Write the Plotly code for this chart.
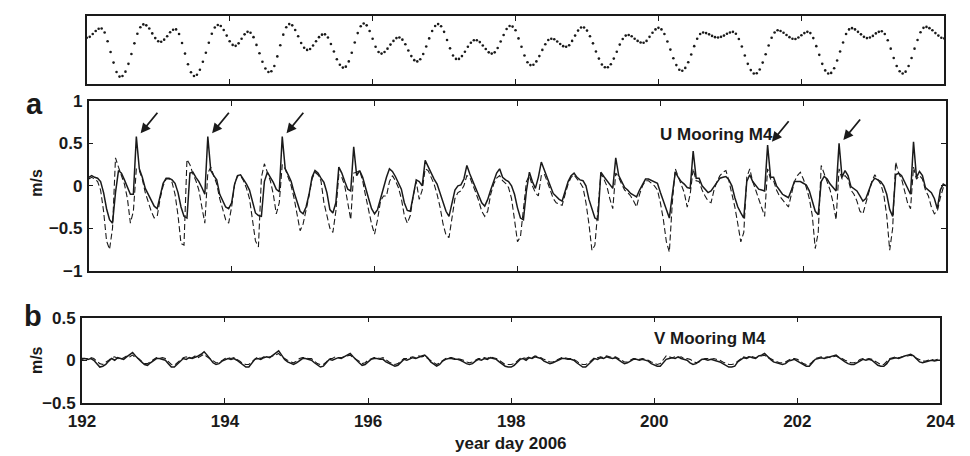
import numpy as np
import plotly.graph_objects as go

# ---------------------------------------------------------------------------
# Hourly series starting at year day 192.0 (2006)
# ---------------------------------------------------------------------------
START_DAY = 192.0

# tidal elevation for the top strip (arbitrary units)
tide = [
    39, 42, 51, 61, 68, 69, 56, 28, -7, -41, -71, -86, -84, -70, -45, -13, 21, 52, 73, 82, 79, 69, 53, 38,
    28, 26, 33, 44, 57, 65, 66, 51, 22, -12, -46, -72, -84, -80, -64, -38, -9, 23, 52, 72, 80, 77, 64, 46,
    28, 16, 13, 21, 36, 50, 58, 55, 41, 16, -11, -38, -60, -71, -69, -52, -21, 15, 49, 73, 83, 79, 64, 44,
    22, 7, 0, 3, 14, 28, 41, 49, 50, 40, 19, -5, -30, -48, -57, -54, -37, -9, 24, 54, 76, 85, 79, 61,
    36, 10, -7, -12, -7, 4, 17, 29, 38, 40, 33, 18, -2, -20, -33, -37, -30, -13, 11, 37, 61, 77, 83, 76,
    58, 32, 5, -18, -29, -29, -20, -6, 10, 23, 31, 31, 25, 14, 3, -8, -12, -8, 6, 27, 48, 67, 77, 75,
    63, 37, 10, -18, -40, -49, -48, -37, -20, 0, 18, 32, 36, 34, 27, 19, 12, 10, 15, 29, 46, 62, 72, 72,
    62, 44, 21, -5, -28, -47, -56, -56, -46, -28, -6, 17, 35, 46, 48, 44, 36, 29, 24, 23, 29, 42, 55, 66,
    71, 66, 51, 27, 1, -27, -49, -64, -67, -58, -40, -15, 12, 36, 51, 56, 54, 50, 45, 41, 40, 42, 46, 52,
    56, 58, 52, 35, 11, -18, -45, -65, -76, -75, -63, -41, -14, 14, 39, 56, 63, 61, 55, 48, 41, 36, 35, 40,
    47, 54, 58, 54, 38, 12, -16, -45, -66, -76, -74, -59, -34, -5, 24, 51, 66, 70, 66, 58, 50, 42, 38, 40,
    45, 53, 58, 60, 51, 31, 4, -26, -52, -69, -76, -70, -52, -26, 4, 32, 57, 71, 74, 70, 63, 54, 46, 39,
    37,
]

# U velocity (m/s): solid curve
u_obs = [
    0.10, 0.12, 0.10, 0.09, 0.05, -0.08, -0.27, -0.40, -0.44, -0.08, 0.18, 0.15, 0.07, -0.02, -0.10, -0.10, 0.58, 0.20, 0.10, -0.03, -0.10, -0.16, -0.24, -0.27,
    -0.10, 0.03, 0.09, 0.09, 0.07, 0.03, -0.08, -0.25, -0.36, -0.38, 0.15, 0.16, 0.10, 0.05, -0.02, -0.10, 0.58, 0.18, 0.12, 0.07, -0.10, -0.18, -0.25, -0.27,
    -0.20, 0.02, 0.12, 0.13, 0.08, 0.02, -0.05, -0.18, -0.32, -0.35, -0.36, 0.05, 0.16, 0.10, 0.04, -0.04, -0.07, 0.58, 0.20, 0.13, 0.05, -0.08, -0.18, -0.30,
    -0.33, -0.25, -0.10, 0.10, 0.18, 0.15, 0.09, 0.04, -0.08, -0.28, -0.32, -0.20, 0.22, 0.15, 0.05, -0.04, -0.06, 0.46, 0.12, 0.18, 0.10, -0.04, -0.15, -0.27,
    -0.33, -0.28, -0.15, -0.05, 0.10, 0.20, 0.17, 0.11, 0.04, -0.04, -0.20, -0.29, -0.30, -0.10, 0.07, 0.05, 0.00, 0.30, 0.22, 0.16, 0.08, 0.02, -0.08, -0.20,
    -0.30, -0.36, -0.22, -0.05, 0.00, 0.01, 0.08, 0.24, 0.14, 0.06, -0.02, -0.10, -0.20, -0.24, -0.16, -0.05, 0.05, 0.15, 0.20, 0.10, 0.07, 0.05, 0.00, -0.10,
    -0.26, -0.38, -0.40, -0.06, 0.16, 0.05, -0.03, 0.10, 0.28, 0.18, 0.09, 0.00, -0.09, -0.13, -0.16, -0.18, -0.05, 0.05, 0.12, 0.15, 0.10, 0.07, 0.06, 0.00,
    -0.16, -0.28, -0.38, -0.40, 0.16, 0.11, 0.06, 0.01, -0.03, 0.33, 0.12, 0.05, -0.02, -0.05, -0.09, -0.11, -0.13, -0.05, 0.01, 0.08, 0.08, 0.06, 0.05, 0.03,
    -0.08, -0.18, -0.28, -0.38, -0.10, 0.16, 0.10, 0.05, 0.02, -0.02, -0.03, 0.41, 0.09, 0.09, 0.00, -0.04, -0.08, -0.06, -0.01, 0.05, 0.09, 0.10, 0.11, 0.07,
    0.00, -0.14, -0.25, -0.32, -0.38, 0.05, 0.13, 0.05, 0.00, -0.04, -0.05, -0.06, 0.48, 0.10, 0.10, 0.00, -0.05, -0.10, -0.12, -0.14, -0.05, 0.05, 0.05, 0.05,
    0.03, 0.01, -0.06, -0.18, -0.30, -0.34, 0.05, 0.11, 0.08, 0.02, -0.02, -0.06, 0.50, 0.10, 0.18, 0.12, -0.01, -0.04, -0.06, -0.12, -0.18, -0.15, -0.05, 0.04,
    0.09, 0.07, 0.05, 0.00, -0.10, -0.28, -0.36, 0.13, 0.15, 0.12, 0.04, -0.03, -0.10, 0.52, 0.10, 0.17, 0.12, -0.02, -0.05, -0.08, -0.15, -0.27, -0.05, 0.02,
    0.00,
]

# U velocity (m/s): dashed curve
u_model = [
    0.08, 0.10, 0.08, 0.05, -0.05, -0.30, -0.65, -0.75, -0.50, 0.33, 0.22, 0.12, 0.02, -0.15, -0.44, -0.30, 0.20, 0.18, 0.08, -0.08, -0.20, -0.30, -0.38, -0.36,
    -0.15, 0.00, 0.08, 0.08, 0.04, -0.10, -0.35, -0.68, -0.70, 0.31, 0.25, 0.14, 0.06, -0.05, -0.25, -0.44, 0.15, 0.22, 0.12, 0.02, -0.15, -0.28, -0.40, -0.44,
    -0.25, 0.02, 0.12, 0.12, 0.06, -0.03, -0.15, -0.40, -0.65, -0.72, 0.10, 0.26, 0.15, 0.06, -0.10, -0.33, -0.20, 0.25, 0.20, 0.10, 0.00, -0.15, -0.35, -0.53,
    -0.45, -0.30, -0.12, 0.08, 0.16, 0.13, 0.06, -0.20, -0.37, -0.50, -0.55, -0.30, 0.13, 0.10, 0.00, -0.20, -0.40, 0.15, 0.16, 0.18, 0.06, -0.12, -0.30, -0.45,
    -0.57, -0.40, -0.18, -0.12, -0.12, 0.05, 0.12, 0.06, -0.02, -0.15, -0.35, -0.44, -0.35, -0.12, 0.05, -0.16, -0.05, 0.20, 0.18, 0.10, 0.02, -0.10, -0.25, -0.45,
    -0.58, -0.61, -0.35, -0.15, -0.08, -0.06, 0.00, 0.12, 0.10, 0.02, -0.08, -0.18, -0.30, -0.36, -0.30, -0.10, 0.02, 0.09, 0.12, 0.06, 0.03, -0.02, -0.15, -0.40,
    -0.66, -0.60, -0.30, 0.05, 0.12, 0.00, -0.08, -0.12, 0.12, 0.14, 0.05, -0.05, -0.15, -0.20, -0.22, -0.23, -0.10, 0.02, 0.10, 0.13, 0.08, 0.04, -0.02, -0.20,
    -0.45, -0.76, -0.70, -0.30, 0.14, 0.08, 0.00, -0.15, -0.27, 0.15, 0.10, 0.02, -0.05, -0.08, -0.12, -0.18, -0.25, -0.10, 0.00, 0.06, 0.06, 0.03, 0.00, -0.05,
    -0.20, -0.40, -0.66, -0.78, -0.20, 0.20, 0.10, 0.02, -0.08, -0.25, -0.10, 0.20, 0.06, 0.05, -0.05, -0.12, -0.18, -0.20, -0.05, 0.05, 0.12, 0.16, 0.18, 0.06,
    -0.08, -0.25, -0.45, -0.66, -0.55, 0.10, 0.20, 0.05, -0.05, -0.15, -0.25, -0.36, 0.20, 0.08, 0.06, -0.05, -0.12, -0.16, -0.20, -0.25, -0.10, 0.05, 0.12, 0.16,
    0.08, -0.02, -0.15, -0.35, -0.74, -0.55, 0.24, 0.15, 0.05, -0.05, -0.20, -0.40, 0.20, 0.08, 0.12, 0.08, -0.05, -0.10, -0.18, -0.30, -0.33, -0.20, -0.05, 0.05,
    0.13, 0.08, 0.02, -0.10, -0.35, -0.76, -0.50, 0.28, 0.15, 0.08, -0.05, -0.20, -0.27, 0.22, 0.08, 0.12, 0.08, -0.05, -0.12, -0.25, -0.33, -0.30, -0.14, -0.02,
    0.00,
]

# V velocity (m/s): solid curve
v_obs = [
    0.02, 0.02, 0.01, 0.02, 0.00, -0.04, -0.08, -0.07, -0.05, -0.01, 0.02, 0.00, 0.03, 0.02, 0.01, 0.04, 0.06, 0.09, 0.05, 0.01, -0.02, -0.05, -0.06, -0.03,
    0.00, 0.02, 0.02, 0.01, 0.00, -0.04, -0.08, -0.08, -0.05, -0.01, 0.02, 0.01, 0.03, 0.02, 0.04, 0.05, 0.07, 0.10, 0.06, 0.01, -0.03, -0.05, -0.04, -0.01,
    0.01, 0.02, 0.01, 0.02, 0.00, -0.03, -0.06, -0.08, -0.08, -0.04, 0.01, 0.02, 0.01, 0.03, 0.04, 0.03, 0.06, 0.09, 0.11, 0.06, 0.01, -0.02, -0.04, -0.05,
    -0.03, 0.00, 0.02, 0.02, 0.01, 0.00, -0.03, -0.06, -0.08, -0.07, -0.03, 0.01, 0.00, 0.02, 0.03, 0.02, 0.04, 0.06, 0.08, 0.04, 0.00, -0.03, -0.06, -0.05,
    -0.02, 0.01, 0.02, 0.02, 0.01, 0.01, -0.02, -0.04, -0.06, -0.07, -0.06, -0.02, 0.01, 0.00, 0.02, 0.03, 0.02, 0.04, 0.05, 0.06, 0.03, -0.02, -0.05, -0.07,
    -0.05, -0.01, 0.01, 0.02, 0.02, 0.01, 0.01, 0.00, -0.02, -0.04, -0.05, -0.04, -0.01, 0.01, 0.00, 0.02, 0.01, 0.03, 0.02, 0.01, -0.02, -0.05, -0.07, -0.08,
    -0.08, -0.06, -0.02, 0.01, 0.02, 0.00, 0.03, 0.02, 0.04, 0.03, 0.02, -0.01, -0.03, -0.04, -0.03, -0.01, 0.01, 0.02, 0.02, 0.01, 0.01, 0.00, -0.03, -0.06,
    -0.08, -0.08, -0.05, -0.01, 0.02, 0.01, 0.03, 0.02, 0.04, 0.03, 0.02, 0.03, 0.01, -0.02, -0.04, -0.03, -0.01, 0.01, 0.01, 0.00, 0.01, 0.00, -0.01, -0.04,
    -0.06, -0.07, -0.07, -0.03, 0.01, 0.02, 0.03, 0.02, 0.04, 0.02, 0.01, 0.00, -0.03, -0.05, -0.04, -0.01, 0.01, 0.01, 0.00, 0.01, 0.00, -0.01, -0.02, -0.04,
    -0.06, -0.08, -0.08, -0.07, -0.02, 0.01, 0.03, 0.02, 0.04, 0.03, 0.02, 0.05, 0.06, 0.08, 0.04, 0.01, -0.02, -0.03, -0.04, -0.05, -0.04, -0.01, 0.00, 0.01,
    -0.01, -0.03, -0.06, -0.07, -0.07, -0.03, 0.01, 0.02, 0.03, 0.02, 0.03, 0.04, 0.05, 0.06, 0.03, 0.00, -0.02, -0.04, -0.05, -0.05, -0.03, 0.00, 0.01, 0.00,
    0.01, 0.00, -0.03, -0.06, -0.07, -0.07, -0.04, 0.01, 0.02, 0.03, 0.02, 0.04, 0.05, 0.06, 0.07, 0.05, 0.01, -0.02, -0.03, -0.02, -0.01, 0.00, -0.01, 0.00,
    0.00,
]

# V velocity (m/s): dashed curve
v_model = [
    0.01, 0.02, 0.02, 0.03, 0.02, -0.01, -0.04, -0.05, -0.03, 0.00, 0.03, 0.04, 0.02, 0.01, 0.03, 0.05, 0.04, 0.06, 0.03, 0.02, -0.01, -0.04, -0.04, -0.02,
    0.01, 0.03, 0.02, 0.03, 0.02, -0.02, -0.05, -0.06, -0.03, 0.00, 0.03, 0.04, 0.02, 0.03, 0.05, 0.03, 0.05, 0.07, 0.04, 0.02, -0.01, -0.03, -0.03, 0.00,
    0.02, 0.03, 0.02, 0.03, 0.01, -0.01, -0.04, -0.05, -0.05, -0.02, 0.02, 0.04, 0.02, 0.04, 0.03, 0.04, 0.05, 0.06, 0.08, 0.04, 0.02, 0.00, -0.02, -0.03,
    -0.01, 0.02, 0.03, 0.03, 0.02, 0.02, -0.01, -0.04, -0.05, -0.05, -0.02, 0.02, 0.02, 0.04, 0.03, 0.03, 0.04, 0.05, 0.06, 0.03, 0.01, -0.01, -0.04, -0.03,
    0.00, 0.02, 0.03, 0.03, 0.02, 0.03, 0.00, -0.02, -0.04, -0.05, -0.04, -0.01, 0.02, 0.02, 0.03, 0.04, 0.03, 0.05, 0.04, 0.05, 0.02, 0.00, -0.03, -0.05,
    -0.03, 0.00, 0.02, 0.03, 0.03, 0.02, 0.02, 0.01, 0.00, -0.02, -0.03, -0.02, 0.00, 0.02, 0.02, 0.03, 0.02, 0.04, 0.03, 0.02, 0.00, -0.03, -0.05, -0.05,
    -0.05, -0.04, -0.01, 0.02, 0.03, 0.02, 0.04, 0.03, 0.05, 0.04, 0.03, 0.01, -0.01, -0.02, -0.02, 0.00, 0.02, 0.03, 0.03, 0.02, 0.02, 0.01, -0.01, -0.04,
    -0.05, -0.05, -0.03, 0.00, 0.03, 0.03, 0.04, 0.03, 0.05, 0.04, 0.03, 0.04, 0.02, 0.00, -0.02, -0.02, 0.00, 0.02, 0.02, 0.01, 0.02, 0.01, 0.00, -0.02,
    -0.04, -0.05, -0.04, 0.00, 0.05, 0.04, 0.03, 0.04, 0.03, 0.04, 0.02, 0.02, 0.01, -0.01, -0.03, -0.02, 0.00, 0.02, 0.02, 0.01, 0.02, 0.01, 0.00, -0.02,
    -0.04, -0.05, -0.05, -0.04, -0.01, 0.02, 0.04, 0.03, 0.05, 0.04, 0.03, 0.04, 0.05, 0.06, 0.03, 0.02, 0.00, -0.02, -0.03, -0.03, -0.02, 0.00, 0.02, 0.02,
    0.01, -0.01, -0.04, -0.05, -0.05, -0.02, 0.02, 0.03, 0.04, 0.03, 0.04, 0.03, 0.04, 0.05, 0.03, 0.02, 0.00, -0.02, -0.03, -0.03, -0.02, 0.01, 0.02, 0.01,
    0.02, 0.01, -0.01, -0.04, -0.05, -0.05, -0.02, 0.02, 0.03, 0.04, 0.03, 0.04, 0.05, 0.05, 0.06, 0.04, 0.02, 0.00, -0.01, -0.01, 0.00, 0.01, 0.00, 0.01,
    0.00,
]

# hours (from the start of day 192) of the U spikes flagged with arrows
flagged_hours = [16, 40, 65, 228, 252]

x_ticks = [192, 194, 196, 198, 200, 202, 204]


def day_axis(values):
    """Hourly sample times expressed as year day."""
    return START_DAY + np.arange(len(values)) / 24.0


INK = "#1a1a1a"
FONT = "Liberation Sans, Arial, Helvetica, sans-serif"
W, H = 970, 456


def px_x(px):
    return px / W


def px_y(py):
    return 1 - py / H


fig = go.Figure()

# top strip: tide, drawn as dots
fig.add_trace(go.Scatter(
    x=day_axis(tide), y=tide, mode="markers",
    marker=dict(size=2.6, color=INK), xaxis="x", yaxis="y", hoverinfo="skip",
))

# panel a: U
fig.add_trace(go.Scatter(
    x=day_axis(u_model), y=u_model, mode="lines",
    line=dict(color=INK, width=1.1, dash="6px,3px"), xaxis="x2", yaxis="y2",
))
fig.add_trace(go.Scatter(
    x=day_axis(u_obs), y=u_obs, mode="lines",
    line=dict(color=INK, width=1.5), xaxis="x2", yaxis="y2",
))

# panel b: V
fig.add_trace(go.Scatter(
    x=day_axis(v_model), y=v_model, mode="lines",
    line=dict(color=INK, width=1.1, dash="6px,3px"), xaxis="x3", yaxis="y3",
))
fig.add_trace(go.Scatter(
    x=day_axis(v_obs), y=v_obs, mode="lines",
    line=dict(color=INK, width=1.5), xaxis="x3", yaxis="y3",
))

frame = dict(
    showline=True, linecolor=INK, linewidth=1.6, mirror="ticks",
    ticks="inside", ticklen=5, tickwidth=1.2, tickcolor=INK,
    showgrid=False, zeroline=False, fixedrange=True,
)
tick_font = dict(family=FONT, size=17, color=INK, weight="bold")

fig.update_layout(
    width=W, height=H,
    margin=dict(l=0, r=0, t=0, b=0),
    paper_bgcolor="white", plot_bgcolor="white",
    showlegend=False,
    font=dict(family=FONT, color=INK),
    xaxis=dict(frame, domain=[px_x(75), px_x(959)], range=[192, 204],
               tickvals=x_ticks, showticklabels=False, anchor="y"),
    yaxis=dict(frame, domain=[px_y(78), px_y(7)], range=[-109, 110],
               ticks="", mirror=True, showticklabels=False, anchor="x"),
    xaxis2=dict(frame, domain=[px_x(77), px_x(961)], range=[192, 204],
                tickvals=x_ticks, showticklabels=False, anchor="y2"),
    yaxis2=dict(frame, domain=[px_y(273), px_y(96)], range=[-1, 1],
                tickvals=[-1, -0.5, 0, 0.5, 1], tickfont=tick_font,
                ticklabelstandoff=1, anchor="x2"),
    xaxis3=dict(frame, domain=[px_x(70), px_x(955)], range=[192, 204],
                tickvals=x_ticks, tickfont=tick_font,
                ticklabelstandoff=2, anchor="y3"),
    yaxis3=dict(frame, domain=[px_y(411), px_y(322)], range=[-0.5, 0.5],
                tickvals=[-0.5, 0, 0.5], tickfont=tick_font,
                ticklabelstandoff=1, anchor="x3"),
)

bold = dict(family=FONT, color=INK, weight="bold")
annotations = [
    dict(text="a", x=px_x(21.5), y=px_y(99), xref="paper", yref="paper",
         showarrow=False, xanchor="center", yanchor="middle",
         font=dict(bold, size=29)),
    dict(text="b", x=px_x(19.5), y=px_y(320), xref="paper", yref="paper",
         showarrow=False, xanchor="center", yanchor="middle",
         font=dict(bold, size=29)),
    dict(text="m/s", x=px_x(23), y=px_y(181), xref="paper", yref="paper",
         showarrow=False, textangle=-90, xanchor="center", yanchor="middle",
         font=dict(bold, size=16)),
    dict(text="m/s", x=px_x(23), y=px_y(366), xref="paper", yref="paper",
         showarrow=False, textangle=-90, xanchor="center", yanchor="middle",
         font=dict(bold, size=16)),
    dict(text="U Mooring M4", x=200.79, y=0.605, xref="x2", yref="y2",
         showarrow=False, xanchor="center", yanchor="middle",
         font=dict(bold, size=17)),
    dict(text="V Mooring M4", x=200.78, y=0.253, xref="x3", yref="y3",
         showarrow=False, xanchor="center", yanchor="middle",
         font=dict(bold, size=17)),
    # axis title along the bottom edge of the page
    dict(text="year day 2006", x=px_x(512), y=0, xref="paper", yref="paper",
         showarrow=False, xanchor="center", yanchor="bottom", borderpad=0,
         yshift=-8, font=dict(bold, size=17)),
]

# arrows pointing at the flagged U spikes
u_days = day_axis(u_obs)
for h in flagged_hours:
    annotations.append(dict(
        x=u_days[h] + 0.06, y=u_obs[h] + 0.04, xref="x2", yref="y2",
        text="", showarrow=True, ax=18, ay=-22,
        arrowhead=2, arrowsize=1.1, arrowwidth=1.8, arrowcolor=INK,
    ))

fig.update_layout(annotations=annotations)

fig.write_html("out.html")
